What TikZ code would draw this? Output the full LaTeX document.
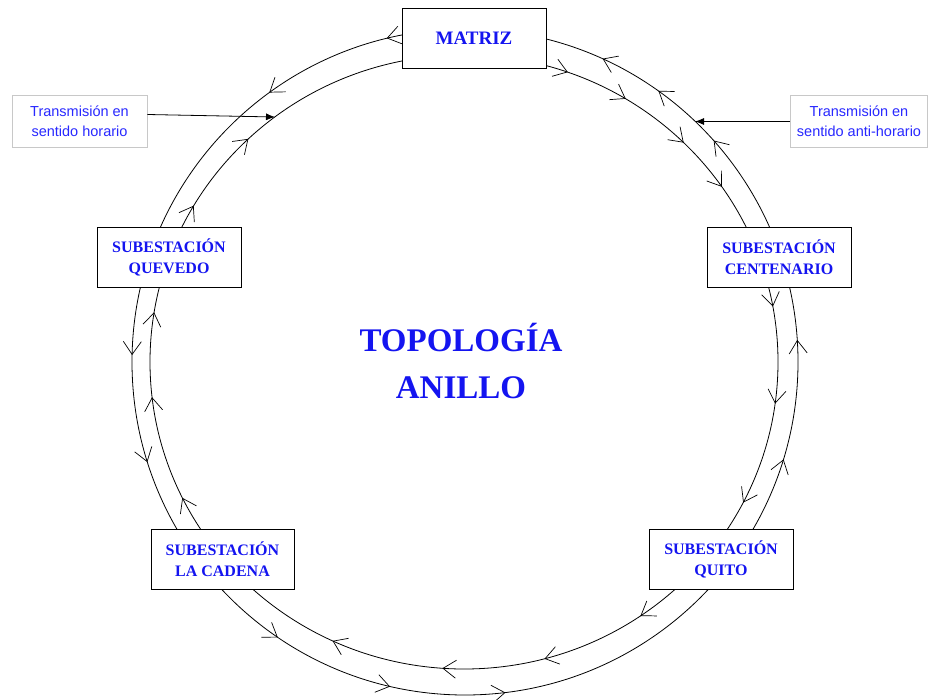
\documentclass[tikz,border=0pt]{standalone}
\usepackage{fontspec}
\setmainfont{Liberation Serif}
\newfontfamily\labelfont{Liberation Sans}
\usetikzlibrary{arrows.meta,decorations.markings}
\definecolor{textblue}{RGB}{20,20,240}
\definecolor{noteblue}{RGB}{40,40,255}
\definecolor{notegray}{RGB}{200,200,200}

\begin{document}
\begin{tikzpicture}[x=1pt,y=-1pt]
\useasboundingbox (0,0) rectangle (928,700);
\tikzset{
  flowtip/.tip={Straight Barb[length=13pt,width=18pt,line width=0.7pt]},
  ring/.style={line width=0.8pt, postaction=decorate},
  station/.style={draw, line width=0.8pt, fill=white, minimum width=144pt,
    minimum height=60pt, inner sep=0pt, align=center,
    font=\bfseries\fontsize{16}{21}\selectfont, text=textblue},
  note/.style={draw=notegray, line width=0.8pt, fill=white, minimum width=135pt,
    minimum height=52pt, inner sep=0pt, align=center,
    font=\labelfont\fontsize{14.5}{20}\selectfont, text=noteblue},
  pointer/.style={-{Latex[length=9pt,width=7pt]}, line width=0.8pt},
}

% outer ring: counter-clockwise transmission (path runs clockwise on the page)
\draw[ring, decoration={markings,
    mark=at position 0.0472 with {\arrowreversed{flowtip}},
    mark=at position 0.2306 with {\arrowreversed{flowtip}},
    mark=at position 0.2861 with {\arrowreversed{flowtip}},
    mark=at position 0.345  with {\arrowreversed{flowtip}},
    mark=at position 0.4514 with {\arrowreversed{flowtip}},
    mark=at position 0.5033 with {\arrowreversed{flowtip}},
    mark=at position 0.65   with {\arrowreversed{flowtip}},
    mark=at position 0.7122 with {\arrowreversed{flowtip}},
    mark=at position 0.8178 with {\arrowreversed{flowtip}},
    mark=at position 0.8486 with {\arrowreversed{flowtip}},
    mark=at position 0.8842 with {\arrowreversed{flowtip}},
    mark=at position 0.9894 with {\arrowreversed{flowtip}}}]
  (465,362) circle [radius=333];

% inner ring: clockwise transmission
\draw[ring, decoration={markings,
    mark=at position 0.0214 with {\arrow{flowtip}},
    mark=at position 0.075  with {\arrow{flowtip}},
    mark=at position 0.1542 with {\arrow{flowtip}},
    mark=at position 0.2083 with {\arrow{flowtip}},
    mark=at position 0.2611 with {\arrow{flowtip}},
    mark=at position 0.3194 with {\arrow{flowtip}},
    mark=at position 0.4278 with {\arrow{flowtip}},
    mark=at position 0.4819 with {\arrow{flowtip}},
    mark=at position 0.5256 with {\arrow{flowtip}},
    mark=at position 0.5842 with {\arrow{flowtip}},
    mark=at position 0.6286 with {\arrow{flowtip}},
    mark=at position 0.8042 with {\arrow{flowtip}},
    mark=at position 0.8369 with {\arrow{flowtip}},
    mark=at position 0.8742 with {\arrow{flowtip}},
    mark=at position 0.9042 with {\arrow{flowtip}},
    mark=at position 0.9714 with {\arrow{flowtip}}}]
  (464,362) ellipse [x radius=314, y radius=307];

% stations on the ring
\node[station, font=\bfseries\fontsize{19}{22}\selectfont] (matriz) at (474,38) {MATRIZ};
\node[station] (quevedo) at (169,257) {SUBESTACIÓN\\QUEVEDO};
\node[station] (centenario) at (779,257) {SUBESTACIÓN\\CENTENARIO};
\node[station, minimum width=143pt] (cadena) at (222.5,559) {SUBESTACIÓN\\LA CADENA};
\node[station] (quito) at (721,559) {SUBESTACIÓN\\QUITO};

% title
\node[font=\bfseries\fontsize{33}{47}\selectfont, text=textblue, align=center]
  (title) at (461,361) {TOPOLOGÍA\\ANILLO};

% direction notes
\node[note] (noteL) at (79.5,121.5) {Transmisión en\\sentido horario};
\node[note, minimum width=137pt] (noteR) at (859,121.5) {Transmisión en\\sentido anti-horario};
\coordinate (hitL) at (275,117);
\coordinate (hitR) at (695,121.5);
\draw[pointer] ([yshift=7pt]noteL.east) -- (hitL);
\draw[pointer] (noteR.west) -- (hitR);
\end{tikzpicture}
\end{document}
